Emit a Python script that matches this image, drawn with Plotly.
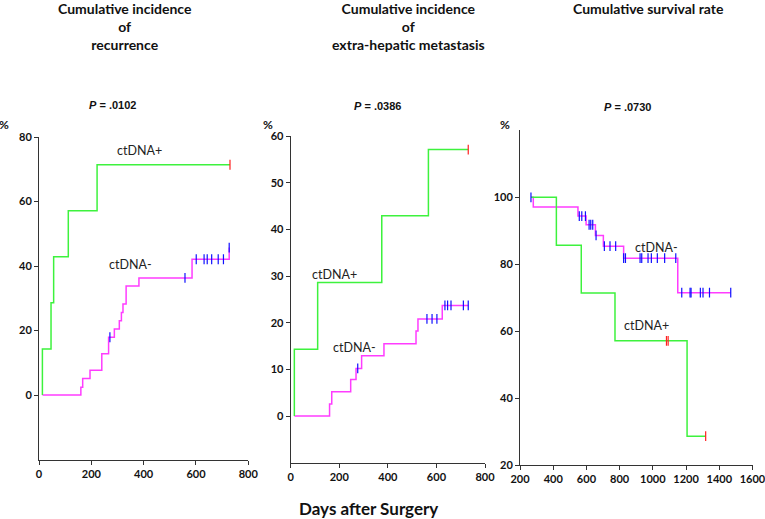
import plotly.graph_objects as go

W, H = 765, 519

# ---------------- data ----------------
# Panel 1: cumulative incidence of recurrence
rec_pos_times = [13, 13, 46, 56, 112, 222]
rec_pos_vals = [0, 14.3, 28.6, 42.9, 57.1, 71.4]
rec_pos_end = 730
rec_pos_cens = [730]

rec_neg_times = [13, 160, 167, 195, 240, 266, 288, 307, 315, 321, 333, 382, 585, 727]
rec_neg_vals = [0, 2.4, 5.1, 7.7, 12.8, 17.9, 20.5, 23.0, 25.6, 28.2, 33.8, 36.3, 42.1, 45.7]
rec_neg_end = 727
rec_neg_cens = [271, 558, 601, 631, 643, 660, 685, 705, 727]

# Panel 2: cumulative incidence of extra-hepatic metastasis
ehm_pos_times = [15, 15, 111, 375, 567]
ehm_pos_vals = [0, 14.3, 28.6, 42.9, 57.1]
ehm_pos_end = 731
ehm_pos_cens = [731]

ehm_neg_times = [15, 160, 169, 247, 269, 292, 384, 516, 524, 624]
ehm_neg_vals = [0, 2.6, 5.2, 7.8, 10.2, 12.9, 15.5, 18.2, 20.8, 23.7]
ehm_neg_end = 731
ehm_neg_cens = [276, 561, 582, 602, 635, 646, 660, 711, 731]

# Panel 3: cumulative survival rate
os_pos_times = [266, 419, 569, 772, 1206]
os_pos_vals = [100, 85.7, 71.4, 57.1, 28.6]
os_pos_end = 1318
os_pos_cens = [1082, 1092, 1318]

os_neg_times = [266, 280, 549, 598, 654, 702, 824, 1150]
os_neg_vals = [100, 97.1, 94.4, 91.8, 88.6, 85.4, 81.8, 71.5]
os_neg_end = 1469
os_neg_cens = [266, 557, 572, 594, 616, 626, 638, 658, 708, 742, 776, 824, 835,
               923, 933, 971, 991, 1027, 1071, 1138, 1174, 1224, 1230, 1286,
               1302, 1341, 1469]

titles = ["Cumulative incidence<br>of<br>recurrence",
          "Cumulative incidence<br>of<br>extra-hepatic metastasis",
          "Cumulative survival rate"]
pvalues = [".0102", ".0386", ".0730"]
x_label = "Days after Surgery"

x_ticks = [[0, 200, 400, 600, 800], [0, 200, 400, 600, 800],
           [200, 400, 600, 800, 1000, 1200, 1400, 1600]]
y_ticks = [[0, 20, 40, 60, 80], [0, 10, 20, 30, 40, 50, 60], [20, 40, 60, 80, 100]]

# ---------------- helpers ----------------
def step_at(times, vals, t):
    v = vals[0]
    for ti, vi in zip(times, vals):
        if ti <= t:
            v = vi
    return v

GREEN = "#3df23d"
MAGENTA = "#ff3cff"
BLUE = "#1010ff"
RED = "#ff2020"

fig = go.Figure()

panels = [
    (rec_pos_times, rec_pos_vals, rec_pos_end, rec_pos_cens,
     rec_neg_times, rec_neg_vals, rec_neg_end, rec_neg_cens),
    (ehm_pos_times, ehm_pos_vals, ehm_pos_end, ehm_pos_cens,
     ehm_neg_times, ehm_neg_vals, ehm_neg_end, ehm_neg_cens),
    (os_pos_times, os_pos_vals, os_pos_end, os_pos_cens,
     os_neg_times, os_neg_vals, os_neg_end, os_neg_cens),
]

for i, (pt, pv, pe, pc, nt, nv, ne, nc) in enumerate(panels):
    xa = "x" if i == 0 else f"x{i+1}"
    ya = "y" if i == 0 else f"y{i+1}"
    fig.add_trace(go.Scatter(x=list(nt) + [ne], y=list(nv) + [nv[-1]], mode="lines",
                             line=dict(color=MAGENTA, width=1.5, shape="hv"),
                             xaxis=xa, yaxis=ya, showlegend=False, hoverinfo="skip"))
    fig.add_trace(go.Scatter(x=list(pt) + [pe], y=list(pv) + [pv[-1]], mode="lines",
                             line=dict(color=GREEN, width=1.5, shape="hv"),
                             xaxis=xa, yaxis=ya, showlegend=False, hoverinfo="skip"))
    fig.add_trace(go.Scatter(x=nc, y=[step_at(nt, nv, t) for t in nc], mode="markers",
                             marker=dict(symbol="line-ns", size=7,
                                         line=dict(color=BLUE, width=1.2)),
                             xaxis=xa, yaxis=ya, showlegend=False, hoverinfo="skip"))
    fig.add_trace(go.Scatter(x=pc, y=[step_at(pt, pv, t) for t in pc], mode="markers",
                             marker=dict(symbol="line-ns", size=7,
                                         line=dict(color=RED, width=1.2)),
                             xaxis=xa, yaxis=ya, showlegend=False, hoverinfo="skip"))

# ---------------- layout ----------------
def px_x(p):
    return p / W

def px_y(p):
    return 1 - p / H

x_dom = [(39, 248.3), (290.7, 485), (520, 752.5)]
y_dom = [(137, 459.5), (136, 462.7), (130.4, 465)]
x_rng = [[0, 800], [0, 800], [200, 1600]]
y_rng = [[-20, 80], [-10, 60], [20, 120]]

tickfont = dict(family="Lato", size=11, color="#111")
layout = dict(
    width=W, height=H, margin=dict(l=0, r=0, t=0, b=0, autoexpand=False),
    paper_bgcolor="white", plot_bgcolor="white",
    showlegend=False,
)
for i in range(3):
    xk = "xaxis" if i == 0 else f"xaxis{i+1}"
    yk = "yaxis" if i == 0 else f"yaxis{i+1}"
    ya = "y" if i == 0 else f"y{i+1}"
    xa = "x" if i == 0 else f"x{i+1}"
    layout[xk] = dict(domain=[px_x(x_dom[i][0]), px_x(x_dom[i][1])], range=x_rng[i],
                      anchor=ya, showline=True, linecolor="#333", linewidth=1,
                      ticks="outside", ticklen=4, tickcolor="#333", automargin=False,
                      ticklabeloverflow="allow",
                      tickvals=x_ticks[i], ticktext=[f"<b>{v}</b>" for v in x_ticks[i]],
                      tickfont=tickfont, showgrid=False, zeroline=False, fixedrange=True)
    layout[yk] = dict(domain=[px_y(y_dom[i][1]), px_y(y_dom[i][0])], range=y_rng[i],
                      anchor=xa, showline=True, linecolor="#333", linewidth=1,
                      ticks="outside", ticklen=4, tickcolor="#333", automargin=False,
                      ticklabeloverflow="allow",
                      tickvals=y_ticks[i], ticktext=[f"<b>{v}</b>" for v in y_ticks[i]],
                      tickfont=tickfont, showgrid=False, zeroline=False, fixedrange=True)

fig.update_layout(**layout)

ann = []
title_pos = [(125, -2), (408, -2), (648, -2)]
for (cx, cy), t in zip(title_pos, titles):
    ann.append(dict(text=f"<b>{t}</b>", x=px_x(cx), y=px_y(cy), xref="paper", yref="paper",
                    xanchor="center", yanchor="top", showarrow=False, align="center",
                    font=dict(family="Lato", size=14, color="#111")))
p_pos = [(112, 105), (377, 106), (627, 107)]
for (cx, cy), p in zip(p_pos, pvalues):
    ann.append(dict(text=f"<b><i>P</i> = {p}</b>", x=px_x(cx), y=px_y(cy), xref="paper",
                    yref="paper", xanchor="center", yanchor="middle", showarrow=False,
                    font=dict(family="Liberation Sans", size=11, color="#111")))
pct_pos = [(4, 125), (268, 125), (505, 125)]
for cx, cy in pct_pos:
    ann.append(dict(text="<b>%</b>", x=px_x(cx), y=px_y(cy), xref="paper", yref="paper",
                    xanchor="center", yanchor="middle", showarrow=False,
                    font=dict(family="Lato", size=12, color="#111")))

labels = [("x", "y", 386, 75.7, "ctDNA+"), ("x", "y", 348, 40.6, "ctDNA-"),
          ("x2", "y2", 182, 30.4, "ctDNA+"), ("x2", "y2", 264, 14.6, "ctDNA-"),
          ("x3", "y3", 1019, 85.1, "ctDNA-"), ("x3", "y3", 959, 61.8, "ctDNA+")]
for xr, yr, x, y, t in labels:
    ann.append(dict(text=t, x=x, y=y, xref=xr, yref=yr, xanchor="center", yanchor="middle",
                    showarrow=False, font=dict(family="Lato", size=12.5, color="#222")))

ann.append(dict(text=f"<b>{x_label}</b>", x=px_x(368), y=px_y(508), xref="paper", yref="paper",
                xanchor="center", yanchor="middle", showarrow=False,
                font=dict(family="Lato", size=17, color="#111")))
fig.update_layout(annotations=ann)

fig.write_html("out.html", config={"displayModeBar": False},
               post_script="document.body.style.margin='0';document.body.style.padding='0';"
                           "document.body.style.overflow='hidden';")
